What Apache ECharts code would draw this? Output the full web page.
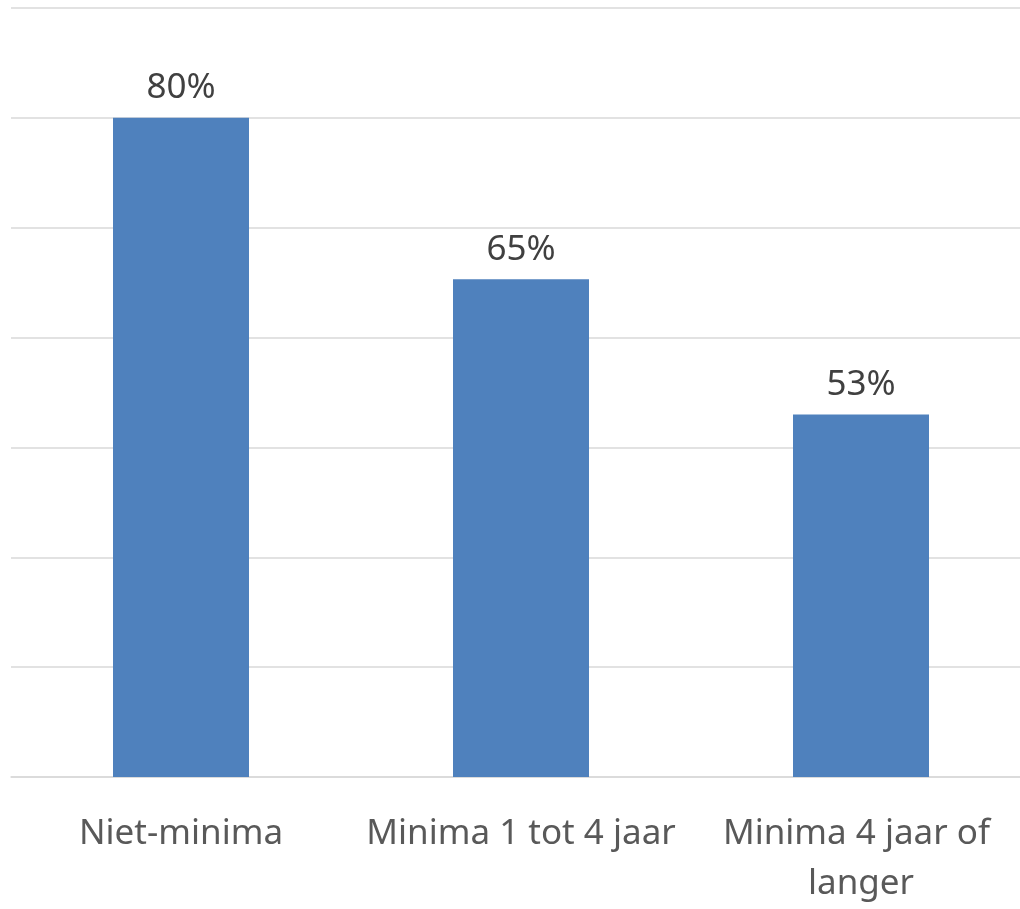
<!DOCTYPE html>
<html>
<head>
<meta charset="utf-8">
<script src="https://cdn.jsdelivr.net/npm/echarts@6/dist/echarts.min.js"></script>
<style>
html,body{margin:0;padding:0;background:#fff;}
#chart{width:1020px;height:909px;}
</style>
</head>
<body>
<div id="chart"></div>
<script>
const categories = ['Niet-minima', 'Minima 1 tot 4 jaar', 'Minima 4 jaar of langer'];
const values = [80, 65.3, 53];
const valueLabels = ['80%', '65%', '53%'];
const axisMin = 20, axisMax = 90, axisStep = 10;

const chart = echarts.init(document.getElementById('chart'));
chart.setOption({
  animation: false,
  backgroundColor: '#ffffff',
  grid: { left: 11, top: 8, width: 1020, height: 769, outerBoundsMode: 'none', containLabel: false },
  xAxis: {
    type: 'category',
    data: categories,
    axisLine: { lineStyle: { color: '#d9d9d9', width: 1.5 } },
    axisTick: { show: false },
    axisLabel: {
      interval: 0,
      color: '#595959',
      fontFamily: 'Noto Sans',
      fontSize: 35,
      lineHeight: 50,
      margin: 32,
      width: 330,
      overflow: 'break'
    }
  },
  yAxis: {
    type: 'value',
    min: axisMin, max: axisMax, interval: axisStep,
    axisLabel: { show: false },
    axisLine: { show: false },
    axisTick: { show: false },
    splitLine: { lineStyle: { color: '#d9d9d9', width: 1.5 } }
  },
  series: [{
    type: 'bar',
    data: values,
    barWidth: '40%',
    itemStyle: { color: '#4f81bd' },
    label: {
      show: true,
      position: 'top',
      distance: 12,
      color: '#404040',
      fontFamily: 'Noto Sans',
      fontSize: 35,
      formatter: p => valueLabels[p.dataIndex]
    }
  }]
});
</script>
</body>
</html>
